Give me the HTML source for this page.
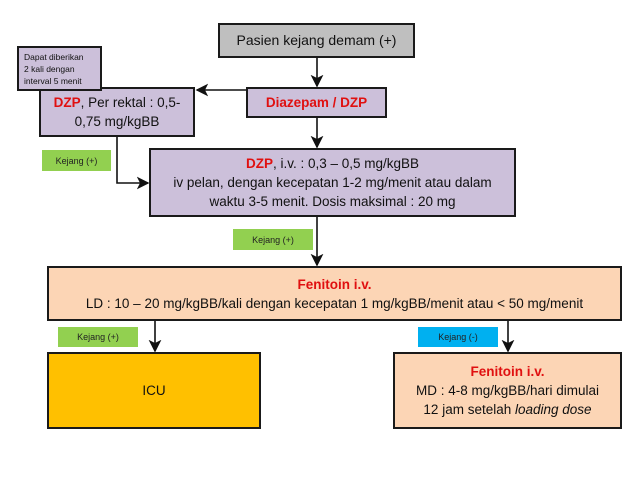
<!DOCTYPE html><html><head><style>
body{margin:0;width:638px;height:479px;background:#fff;position:relative;font-family:"Liberation Sans",sans-serif;overflow:hidden}
.b{position:absolute;box-sizing:border-box;border:2px solid #1a1a1a;display:flex;flex-direction:column;align-items:center;justify-content:center;text-align:center;color:#111;font-size:13.5px;line-height:19px}
.g{position:absolute;background:#92d050;font-size:9px;display:flex;align-items:center;justify-content:center;color:#222}
.r{color:#e01010;font-weight:bold}
svg{position:absolute;left:0;top:0}
</style></head><body>
<svg width="638" height="479"><defs><marker id="a" markerWidth="8" markerHeight="8" refX="7" refY="4" orient="auto"><path d="M0,0 L8,4 L0,8 L2,4z" fill="#111"/></marker></defs>
<g stroke="#111" stroke-width="1.6" fill="none">
<line x1="317" y1="58" x2="317" y2="86" marker-end="url(#a)"/>
<line x1="246" y1="90" x2="197" y2="90" marker-end="url(#a)"/>
<line x1="317" y1="118" x2="317" y2="147" marker-end="url(#a)"/>
<polyline points="117,137 117,183 148,183" marker-end="url(#a)"/>
<line x1="317" y1="217" x2="317" y2="265" marker-end="url(#a)"/>
<line x1="155" y1="321" x2="155" y2="351" marker-end="url(#a)"/>
<line x1="508" y1="321" x2="508" y2="351" marker-end="url(#a)"/>
</g></svg>
<div class="b" style="left:218px;top:23px;width:197px;height:35px;background:#bfbfbf;font-size:14px">Pasien kejang demam (+)</div>
<div class="b" style="left:39px;top:87px;width:156px;height:50px;background:#ccc0da"><div><span class="r">DZP</span>, Per rektal : 0,5-<br>0,75 mg/kgBB</div></div>
<div class="b" style="left:17px;top:46px;width:85px;height:45px;background:#ccc0da;font-size:8.5px;line-height:12px;align-items:flex-start;text-align:left;padding-left:5px">Dapat diberikan<br>2 kali dengan<br>interval 5 menit</div>
<div class="b" style="left:246px;top:87px;width:141px;height:31px;background:#ccc0da"><span class="r">Diazepam / DZP</span></div>
<div class="g" style="left:42px;top:150px;width:69px;height:21px">Kejang (+)</div>
<div class="b" style="left:149px;top:148px;width:367px;height:69px;background:#ccc0da"><div><span class="r">DZP</span>, i.v. : 0,3 – 0,5 mg/kgBB<br>iv pelan, dengan kecepatan 1-2 mg/menit atau dalam<br>waktu 3-5 menit. Dosis maksimal : 20 mg</div></div>
<div class="g" style="left:233px;top:229px;width:80px;height:21px">Kejang (+)</div>
<div class="b" style="left:47px;top:266px;width:575px;height:55px;background:#fcd5b5"><div><span class="r">Fenitoin i.v.</span><br>LD : 10 – 20 mg/kgBB/kali dengan kecepatan 1 mg/kgBB/menit atau &lt; 50 mg/menit</div></div>
<div class="g" style="left:58px;top:327px;width:80px;height:20px">Kejang (+)</div>
<div class="g" style="left:418px;top:327px;width:80px;height:20px;background:#00b0f0">Kejang (-)</div>
<div class="b" style="left:47px;top:352px;width:214px;height:77px;background:#ffc000">ICU</div>
<div class="b" style="left:393px;top:352px;width:229px;height:77px;background:#fcd5b5"><div><span class="r">Fenitoin i.v.</span><br>MD : 4-8 mg/kgBB/hari dimulai<br>12 jam setelah <i>loading dose</i></div></div>
</body></html>
